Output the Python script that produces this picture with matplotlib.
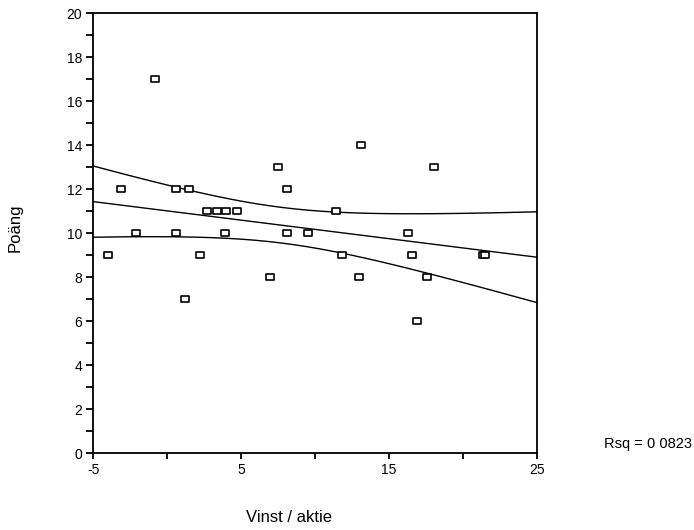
import numpy as np
import matplotlib
matplotlib.use("Agg")
import matplotlib.pyplot as plt
from matplotlib.path import Path

plt.rcParams['font.family'] = ['Liberation Sans', 'DejaVu Sans']
plt.rcParams['axes.unicode_minus'] = False

# Data
vinst = [-4.0, -3.15, -2.14, -0.83, 0.61, 0.61, 1.2, 1.49, 2.19, 2.66, 3.34, 4.01,
         4.69, 3.92, 6.94, 7.53, 8.09, 8.09, 9.53, 11.4, 11.82, 13.0, 13.14, 16.31,
         16.58, 16.87, 17.59, 18.04, 21.4, 21.53]
poang = [9, 12, 10, 17, 12, 10, 7, 12, 9, 11, 11, 11,
         11, 10, 8, 13, 12, 10, 10, 11, 9, 8, 14, 10,
         9, 6, 8, 13, 9, 9]
x_ticks_major = [-5, 5, 15, 25]
y_ticks_major = [0, 2, 4, 6, 8, 10, 12, 14, 16, 18, 20]
rsq_label = "Rsq = 0 0823"

x = np.array(vinst, dtype=float)
y = np.array(poang, dtype=float)

fig = plt.figure(figsize=(6.94, 5.30), dpi=100)
ax = fig.add_axes([93.3 / 694, 1 - 453.3 / 530, (536.7 - 93.3) / 694, (453.3 - 13.3) / 530])

# Linear fit with 95% CI for mean
n = len(x)
b1, b0 = np.polyfit(x, y, 1)
xs = np.linspace(-5, 25, 200)
yhat = b0 + b1 * xs
resid = y - (b0 + b1 * x)
s = np.sqrt(np.sum(resid ** 2) / (n - 2))
sxx = np.sum((x - x.mean()) ** 2)
tval = 2.048
se = s * np.sqrt(1.0 / n + (xs - x.mean()) ** 2 / sxx)
ax.plot(xs, yhat, color='black', lw=1.0)
ax.plot(xs, yhat + tval * se, color='black', lw=1.0)
ax.plot(xs, yhat - tval * se, color='black', lw=1.0)

rect = Path([(-1.5, -1), (1.5, -1), (1.5, 1), (-1.5, 1), (-1.5, -1)],
            [Path.MOVETO, Path.LINETO, Path.LINETO, Path.LINETO, Path.CLOSEPOLY])
ax.plot(x, y, linestyle='none', marker=rect, markersize=6, markerfacecolor='white',
        markeredgecolor='black', markeredgewidth=1.2, zorder=3)

ax.set_xlim(-5, 25)
ax.set_ylim(0, 20)
ax.set_xticks(x_ticks_major)
ax.set_xticks([0, 10, 20], minor=True)
ax.set_yticks(y_ticks_major)
ax.set_yticks(np.arange(1, 20, 2), minor=True)
ax.tick_params(which='both', direction='out', width=1.3, labelsize=10, pad=3)
ax.tick_params(axis='y', which='both', length=5)
ax.tick_params(axis='x', which='both', length=4)
for sp in ax.spines.values():
    sp.set_linewidth(1.3)

ax.set_ylabel('Poäng', fontsize=12)
ax.yaxis.set_label_coords(-(93.3 - 23) / (536.7 - 93.3), (453.3 - 227.5) / 440)
ax.set_xlabel('Vinst / aktie', fontsize=12, va='center')
ax.xaxis.set_label_coords((289 - 93.3) / (536.7 - 93.3), -(518 - 453.3) / 440)

fig.text(692 / 694, 1 - 444 / 530, rsq_label, ha='right', va='center', fontsize=10.5)

fig.savefig('out.png', dpi=100)
